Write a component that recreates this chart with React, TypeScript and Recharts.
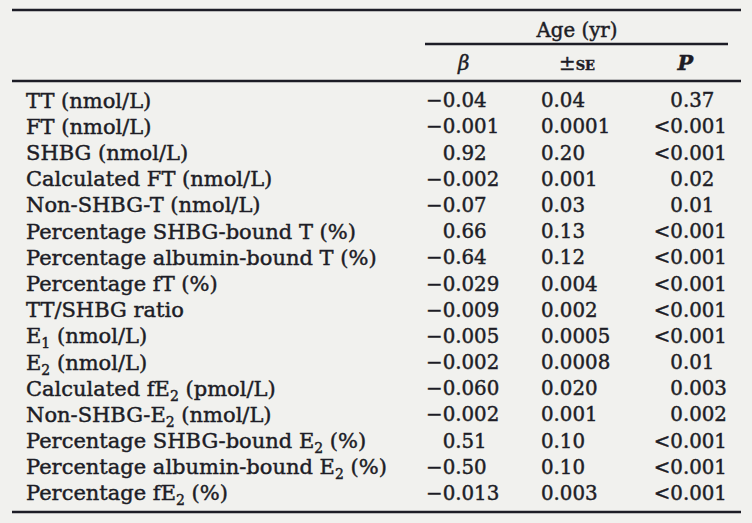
import { ScatterChart, Scatter, XAxis, YAxis, Customized } from 'recharts'

const rowLabels = [
  'TT (nmol/L)',
  'FT (nmol/L)',
  'SHBG (nmol/L)',
  'Calculated FT (nmol/L)',
  'Non-SHBG-T (nmol/L)',
  'Percentage SHBG-bound T (%)',
  'Percentage albumin-bound T (%)',
  'Percentage fT (%)',
  'TT/SHBG ratio',
  'E₁ (nmol/L)',
  'E₂ (nmol/L)',
  'Calculated fE₂ (pmol/L)',
  'Non-SHBG-E₂ (nmol/L)',
  'Percentage SHBG-bound E₂ (%)',
  'Percentage albumin-bound E₂ (%)',
  'Percentage fE₂ (%)',
]

const columns = ['β', '±SE', 'P']
const groupTitle = 'Age (yr)'

const betaValues = ['−0.04', '−0.001', '0.92', '−0.002', '−0.07', '0.66', '−0.64', '−0.029', '−0.009', '−0.005', '−0.002', '−0.060', '−0.002', '0.51', '−0.50', '−0.013']
const seValues = ['0.04', '0.0001', '0.20', '0.001', '0.03', '0.13', '0.12', '0.004', '0.002', '0.0005', '0.0008', '0.020', '0.001', '0.10', '0.10', '0.003']
const pValues = ['0.37', '<0.001', '<0.001', '0.02', '0.01', '<0.001', '<0.001', '<0.001', '<0.001', '<0.001', '0.01', '0.003', '0.002', '<0.001', '<0.001', '<0.001']

const INK = '#1d1d26'
const FONT = '"DejaVu Serif", "Liberation Serif", serif'
const LABEL_SIZE = 21
const NUM_SIZE = 19.8
const INK_STROKE = { stroke: INK, strokeWidth: 0.45 }

// offset of the number start from the column centre, and header nudge
const series = [
  { col: columns[0], values: betaValues, offset: -21 },
  { col: columns[1], values: seValues, offset: -36 },
  { col: columns[2], values: pValues, offset: -20 },
].map(s => ({
  ...s,
  data: s.values.map((text, i) => ({ col: s.col, row: rowLabels[i], text })),
}))

function withSubs(label: string) {
  const parts = label.split(/([₁₂])/)
  const out: any[] = []
  let shiftBack = 0
  parts.forEach((p, i) => {
    if (p === '₁' || p === '₂') {
      out.push(<tspan key={i} fontSize={14} dy={5}>{p === '₁' ? '1' : '2'}</tspan>)
      shiftBack = -5
    } else if (p) {
      out.push(<tspan key={i} dy={shiftBack || undefined}>{p}</tspan>)
      shiftBack = 0
    }
  })
  return out
}

function RowTick(props: any) {
  const { y, payload } = props
  return (
    <text x={26} y={y} dy="0.36em" fill={INK} {...INK_STROKE} fontFamily={FONT} fontSize={LABEL_SIZE} textAnchor="start">
      {withSubs(payload.value)}
    </text>
  )
}

function HeaderTick(props: any) {
  const { x, y, payload } = props
  const v = payload.value
  const common = { y: y - 9, fill: INK, ...INK_STROKE, fontFamily: FONT, textAnchor: 'middle' as const }
  if (v === 'β') return <text x={x} {...common} fontSize={NUM_SIZE} fontStyle="italic">β</text>
  if (v === 'P') return <text x={x - 5} {...common} fontSize={NUM_SIZE + 1} fontStyle="italic" fontWeight="bold">P</text>
  return (
    <text x={x} {...common} fontSize={NUM_SIZE}>
      ±<tspan fontSize={13} fontWeight="bold">SE</tspan>
    </text>
  )
}

function makeCell(offset: number) {
  return (props: any) => {
    const { cx, cy, payload } = props
    const t: string = payload.text
    const hasPrefix = t[0] === '−' || t[0] === '<'
    const x = cx + offset
    return (
      <g>
        {hasPrefix && (
          <text x={x} y={cy} dy="0.36em" textAnchor="end" fill={INK} {...INK_STROKE} fontFamily={FONT} fontSize={NUM_SIZE}>{t[0]}</text>
        )}
        <text x={x} y={cy} dy="0.36em" textAnchor="start" fill={INK} {...INK_STROKE} fontFamily={FONT} fontSize={NUM_SIZE}>
          {hasPrefix ? t.slice(1) : t}
        </text>
      </g>
    )
  }
}

function Rules() {
  return (
    <g>
      <line x1={12} x2={741} y1={10} y2={10} stroke={INK} strokeWidth={2.6} />
      <text x={577} y={30} dy="0.36em" textAnchor="middle" fill={INK} {...INK_STROKE} fontFamily={FONT} fontSize={NUM_SIZE}>{groupTitle}</text>
      <line x1={425} x2={728} y1={44} y2={44} stroke={INK} strokeWidth={2.4} />
      <line x1={12} x2={741} y1={81} y2={81} stroke={INK} strokeWidth={2.6} />
      <line x1={12} x2={741} y1={512} y2={512} stroke={INK} strokeWidth={2.6} />
    </g>
  )
}

export default function App() {
  return (
    <div style={{ position: 'absolute', left: 0, top: 0, width: 752, height: 523, background: '#f1f1ee' }}>
      <ScatterChart width={752} height={523} margin={{ top: 0, right: 5, bottom: 17, left: 0 }}>
        <XAxis
          type="category"
          dataKey="col"
          orientation="top"
          height={87}
          allowDuplicatedCategory={false}
          axisLine={false}
          tickLine={false}
          interval={0}
          tick={<HeaderTick />}
        />
        <YAxis
          type="category"
          dataKey="row"
          width={407}
          reversed
          allowDuplicatedCategory={false}
          axisLine={false}
          tickLine={false}
          interval={0}
          tick={<RowTick />}
        />
        {series.map(s => (
          <Scatter key={s.col} data={s.data} isAnimationActive={false} shape={makeCell(s.offset)} />
        ))}
        <Customized component={Rules} />
      </ScatterChart>
    </div>
  )
}
